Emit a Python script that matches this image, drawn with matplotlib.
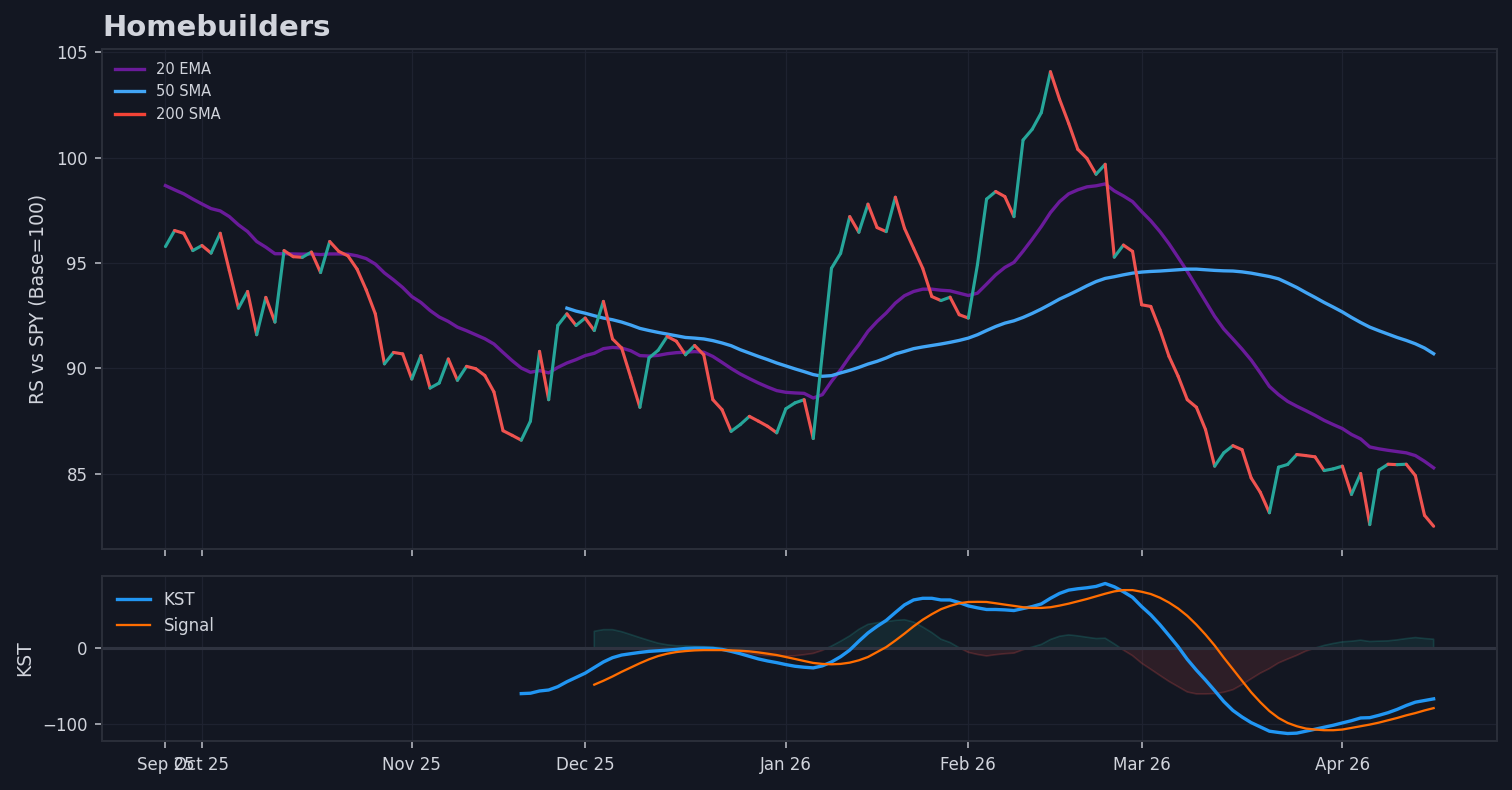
import numpy as np
import pandas as pd
import matplotlib
matplotlib.use('Agg')
import matplotlib.pyplot as plt
from matplotlib.collections import LineCollection

# trading days shown on the chart
holidays = ['2025-11-27', '2025-12-25', '2026-01-01', '2026-01-19', '2026-02-16', '2026-04-03']
dates = pd.bdate_range('2025-09-25', '2026-04-16', freq='C', holidays=holidays)

rs = [95.78, 96.54, 96.41, 95.59, 95.83, 95.47, 96.41, 94.64, 92.86, 93.65,
      91.60, 93.37, 92.20, 95.59, 95.30, 95.27, 95.52, 94.55, 96.02, 95.55,
      95.34, 94.71, 93.73, 92.59, 90.22, 90.76, 90.69, 89.50, 90.61, 89.07,
      89.31, 90.45, 89.44, 90.10, 89.99, 89.67, 88.89, 87.05, 86.83, 86.60,
      87.50, 90.81, 88.52, 92.04, 92.59, 92.04, 92.39, 91.80, 93.18, 91.40,
      90.97, 89.58, 88.16, 90.50, 90.86, 91.52, 91.29, 90.65, 91.09, 90.65,
      88.52, 88.05, 87.02, 87.34, 87.73, 87.50, 87.26, 86.95, 88.09, 88.37,
      88.52, 86.68, 90.73, 94.75, 95.46, 97.20, 96.46, 97.79, 96.68, 96.49,
      98.12, 96.65, 95.70, 94.75, 93.41, 93.22, 93.38, 92.55, 92.39, 94.92,
      98.03, 98.39, 98.15, 97.20, 100.83, 101.34, 102.13, 104.07, 102.76, 101.62,
      100.39, 99.96, 99.21, 99.68, 95.28, 95.85, 95.55, 93.02, 92.94, 91.84,
      90.57, 89.63, 88.52, 88.16, 87.10, 85.37, 86.00, 86.34, 86.15, 84.81,
      84.13, 83.16, 85.32, 85.45, 85.92, 85.87, 85.81, 85.16, 85.24, 85.37,
      84.03, 85.02, 82.60, 85.18, 85.46, 85.44, 85.46, 84.92, 83.04, 82.52]

ema20 = [98.67, 98.47, 98.28, 98.03, 97.80, 97.58, 97.47, 97.20, 96.81, 96.49,
         96.02, 95.75, 95.44, 95.44, 95.43, 95.42, 95.43, 95.40, 95.43, 95.43,
         95.42, 95.34, 95.21, 94.95, 94.53, 94.20, 93.84, 93.41, 93.13, 92.75,
         92.44, 92.23, 91.96, 91.79, 91.60, 91.41, 91.16, 90.76, 90.37, 90.02,
         89.82, 89.90, 89.79, 90.05, 90.26, 90.42, 90.61, 90.72, 90.94, 91.00,
         90.97, 90.84, 90.61, 90.59, 90.62, 90.70, 90.75, 90.77, 90.80, 90.77,
         90.57, 90.29, 90.00, 89.74, 89.52, 89.31, 89.12, 88.95, 88.87, 88.84,
         88.82, 88.60, 88.76, 89.39, 89.94, 90.57, 91.13, 91.76, 92.23, 92.63,
         93.10, 93.45, 93.65, 93.76, 93.76, 93.71, 93.68, 93.57, 93.46, 93.57,
         94.00, 94.44, 94.79, 95.03, 95.56, 96.13, 96.73, 97.39, 97.91, 98.28,
         98.47, 98.61, 98.66, 98.75, 98.42, 98.18, 97.91, 97.44, 97.00, 96.49,
         95.91, 95.26, 94.60, 93.89, 93.18, 92.47, 91.87, 91.40, 90.92, 90.40,
         89.79, 89.15, 88.76, 88.44, 88.21, 88.00, 87.78, 87.54, 87.34, 87.15,
         86.87, 86.66, 86.28, 86.19, 86.12, 86.06, 86.00, 85.87, 85.60, 85.29]

sma50_start = 44
sma50 = [92.86, 92.72, 92.62, 92.50, 92.39, 92.31, 92.20, 92.06, 91.90, 91.80,
         91.71, 91.63, 91.55, 91.47, 91.44, 91.40, 91.32, 91.21, 91.08, 90.89,
         90.73, 90.57, 90.42, 90.26, 90.12, 89.98, 89.85, 89.71, 89.63, 89.66,
         89.79, 89.91, 90.05, 90.21, 90.34, 90.50, 90.69, 90.81, 90.94, 91.02,
         91.09, 91.16, 91.24, 91.33, 91.44, 91.60, 91.80, 91.99, 92.15, 92.26,
         92.42, 92.61, 92.82, 93.05, 93.29, 93.49, 93.70, 93.92, 94.12, 94.27,
         94.35, 94.44, 94.52, 94.57, 94.60, 94.62, 94.65, 94.68, 94.71, 94.71,
         94.68, 94.65, 94.63, 94.62, 94.58, 94.52, 94.44, 94.36, 94.25, 94.05,
         93.84, 93.60, 93.37, 93.13, 92.91, 92.68, 92.42, 92.18, 91.96, 91.79,
         91.63, 91.47, 91.33, 91.17, 90.97, 90.70]

kst_start = 39
kst = [-60.1, -59.6, -56.6, -55.3, -50.9, -44.3, -38.6, -32.9, -25.4, -18.0,
       -12.3, -8.8, -7.0, -5.3, -3.9, -3.1, -2.2, -1.3, 0.0, 0.4,
       0.4, 0.0, -1.3, -3.9, -7.0, -10.5, -14.0, -16.7, -18.9, -21.5,
       -23.7, -25.0, -25.9, -23.2, -18.0, -11.0, -2.2, 9.6, 20.6, 29.4,
       37.3, 47.8, 57.9, 64.5, 66.7, 66.7, 64.5, 64.5, 61.0, 56.6,
       54.0, 51.8, 51.8, 51.3, 50.4, 53.1, 55.7, 59.2, 66.7, 73.2,
       77.6, 79.4, 80.7, 82.5, 86.4, 82.0, 75.4, 68.0, 55.7, 44.7,
       31.6, 17.1, 2.2, -14.5, -28.9, -42.1, -56.1, -70.6, -82.5, -91.2,
       -98.7, -104.4, -110.1, -111.8, -113.2, -112.7, -110.1, -107.5, -104.8, -102.2,
       -99.1, -96.1, -92.5, -92.1, -89.0, -85.5, -81.1, -75.9, -71.5, -69.3,
       -67.1]

signal_start = 47
signal = [-48.2, -43.0, -37.3, -31.1, -25.4, -19.7, -14.5, -10.1, -7.0, -4.8,
          -3.5, -2.6, -2.2, -2.2, -2.2, -2.6, -3.1, -3.9, -5.3, -7.0,
          -8.8, -11.4, -14.0, -16.7, -19.3, -20.6, -21.1, -20.6, -18.9, -15.8,
          -11.4, -4.8, 1.8, 10.5, 19.7, 29.4, 38.2, 45.6, 52.2, 56.6,
          60.1, 61.8, 62.0, 61.8, 60.1, 58.3, 56.6, 54.8, 53.9, 53.9,
          54.8, 57.0, 59.6, 62.7, 65.8, 69.3, 72.8, 75.9, 77.6, 77.6,
          75.4, 72.4, 67.5, 61.0, 53.1, 43.4, 31.6, 18.4, 3.9, -12.3,
          -27.6, -43.0, -58.3, -71.5, -83.3, -92.5, -99.1, -103.5, -106.6, -107.9,
          -108.8, -108.8, -107.9, -105.7, -103.5, -101.3, -98.7, -95.6, -92.5, -89.0,
          -86.0, -82.5, -79.4]

bg = '#131722'
text_c = '#d1d4dc'
tick_c = '#b2b5be'
spine_c = '#2a2e39'
grid_c = '#1e2230'
up_c = '#26a69a'
down_c = '#ef5350'

n = len(rs)
x = np.arange(n)
rs = np.array(rs)

fig = plt.figure(figsize=(10.08, 790 / 150), dpi=150, facecolor=bg)
ax1 = fig.add_axes([0.0675, 0.3051, 0.9226, 0.6329])
ax2 = fig.add_axes([0.0675, 0.0620, 0.9226, 0.2089], sharex=ax1)

for ax in (ax1, ax2):
    ax.set_facecolor(bg)
    for s in ax.spines.values():
        s.set_color(spine_c)
        s.set_linewidth(1.0)
    ax.tick_params(colors=tick_c, labelcolor=text_c, labelsize=8, width=0.8)
    ax.grid(True, color=grid_c, linewidth=0.6)
    ax.set_axisbelow(True)

# top panel: relative strength with moving averages
ax1.plot(x, ema20, color='#6a1b9a', lw=1.6, label='20 EMA')
ax1.plot(x[sma50_start:], sma50, color='#42a5f5', lw=1.6, label='50 SMA')
ax1.plot([], [], color='#f44336', lw=1.6, label='200 SMA')

pts = np.column_stack([x, rs])
segs = np.stack([pts[:-1], pts[1:]], axis=1)
seg_colors = np.where(np.diff(rs) >= 0, up_c, down_c)
lc = LineCollection(segs, colors=seg_colors, linewidths=1.5, capstyle='round', joinstyle='round')
ax1.add_collection(lc)
ax1.autoscale_view()

ax1.set_ylabel('RS vs SPY (Base=100)', color=text_c, fontsize=9)
ax1.set_title('Homebuilders', loc='left', color=text_c, fontsize=14, fontweight='bold', pad=6)
ax1.legend(loc='upper left', frameon=False, fontsize=7, labelcolor=text_c)
ax1.tick_params(axis='x', labelbottom=False)

# bottom panel: KST
kst_x = x[kst_start:]
sig_x = x[signal_start:]
hist = np.array(kst[signal_start - kst_start:]) - np.array(signal)
ax2.fill_between(sig_x, hist, 0, where=hist >= 0, interpolate=True,
                 facecolor=(0.149, 0.651, 0.604, 0.12), edgecolor=(0.149, 0.651, 0.604, 0.22), lw=0.8)
ax2.fill_between(sig_x, hist, 0, where=hist < 0, interpolate=True,
                 facecolor=(0.937, 0.325, 0.314, 0.12), edgecolor=(0.937, 0.325, 0.314, 0.22), lw=0.8)
ax2.axhline(0, color='#2f3340', lw=1.5)
ax2.plot(kst_x, kst, color='#2196f3', lw=1.6, label='KST')
ax2.plot(sig_x, signal, color='#ff6d00', lw=1.1, label='Signal')
ax2.set_yticks([-100, 0])
ax2.set_ylabel('KST', color=text_c, fontsize=9)
ax2.legend(loc='upper left', frameon=False, fontsize=8, labelcolor=text_c)

# month ticks at first trading day of each month
month = dates.to_period('M')
first = np.r_[0, np.flatnonzero(month[1:] != month[:-1]) + 1]
ax2.set_xticks(first)
ax2.set_xticklabels(dates[first].strftime('%b %y'))

fig.savefig('out.png', dpi=150, facecolor=bg)
